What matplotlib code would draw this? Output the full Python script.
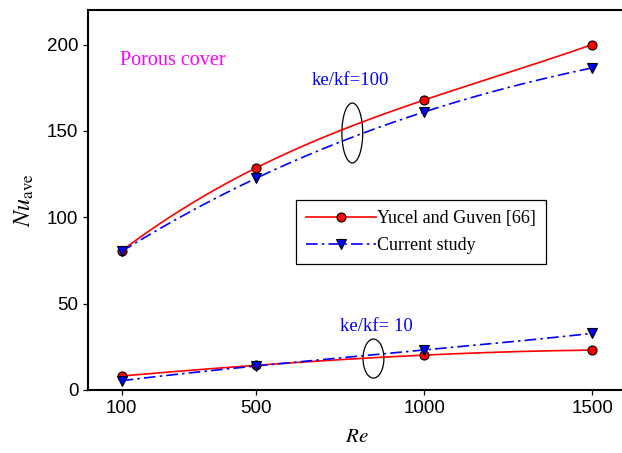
import matplotlib
matplotlib.use('Agg')
import matplotlib.pyplot as plt
from matplotlib.patches import Ellipse
import numpy as np

re = [100, 500, 1000, 1500]
yucel_100 = [80.6, 128.6, 167.9, 200.0]
current_100 = [80.2, 122.6, 161.0, 186.5]
yucel_10 = [8.1, 14.3, 20.2, 23.1]
current_10 = [5.4, 13.9, 23.1, 32.8]

plt.rcParams['mathtext.fontset'] = 'stix'
W, H = 622, 453
fig = plt.figure(figsize=(W/100, H/100), dpi=100)
ax = fig.add_axes([88/W, 63/H, (626-88)/W, 380/H])

def smooth(x, y):
    # cubic through the four points, for a smooth drawn line
    c = np.polyfit(x, y, 3)
    xs = np.linspace(x[0], x[-1], 200)
    return xs, np.polyval(c, xs)

red = dict(color='red', lw=1.2)
blue = dict(color='blue', lw=1.2, linestyle=(0, (7, 2.5, 1.5, 2.5)))

for ys in (yucel_100, yucel_10):
    xs, yy = smooth(re, ys)
    ax.plot(xs, yy, **red)
for ys in (current_100, current_10):
    xs, yy = smooth(re, ys)
    ax.plot(xs, yy, **blue)
for ys in (yucel_100, yucel_10):
    ax.plot(re, ys, 'o', ms=6.5, mfc='red', mec='black', mew=0.8)
for ys in (current_100, current_10):
    ax.plot(re, ys, 'v', ms=7, mfc='blue', mec='black', mew=0.8)

# legend proxies
h1, = ax.plot([], [], marker='o', ms=6.5, mfc='red', mec='black', mew=0.8, **red)
h2, = ax.plot([], [], marker='v', ms=7, mfc='blue', mec='black', mew=0.8, **blue)
leg = ax.legend([h1, h2], ['Yucel and Guven [66]', 'Current study'],
                loc='upper left', bbox_to_anchor=((296-88)/538, (390-200)/380),
                borderaxespad=0, handlelength=3.9, handletextpad=0.05,
                labelspacing=0.55, fancybox=False, edgecolor='black',
                framealpha=1, borderpad=0.55,
                prop={'family': 'Liberation Serif', 'size': 13})
leg.get_frame().set_linewidth(0.9)

ax.add_patch(Ellipse((786, 148.8), 62, 34.7, fill=False, ec='black', lw=0.9))
ax.add_patch(Ellipse((849, 18.2), 62, 22.6, fill=False, ec='black', lw=0.9))

ax.text(95, 191, 'Porous cover', color='magenta', family='Liberation Serif',
        fontsize=14.5, va='center')
ax.text(666, 179, 'ke/kf=100', color='blue', family='Liberation Serif',
        fontsize=13.5, va='center')
ax.text(749, 37, 'ke/kf= 10', color='blue', family='Liberation Serif',
        fontsize=13.5, va='center')

ax.set_xlim(0, 1600)
ax.set_ylim(0, 220)
ax.set_xticks(re)
ax.set_yticks([0, 50, 100, 150, 200])
ax.tick_params(direction='out', length=3.5, width=0.9, labelsize=13.5)
for lab in ax.get_xticklabels() + ax.get_yticklabels():
    lab.set_family('Liberation Sans')
for s in ax.spines.values():
    s.set_linewidth(1.5)

ax.set_xlabel(r'$\mathit{Re}$', fontsize=15, labelpad=7)
ax.set_ylabel(r'$\mathit{Nu}_{\mathrm{ave}}$', fontsize=17.5, labelpad=8)

fig.savefig('out.png', dpi=100)
